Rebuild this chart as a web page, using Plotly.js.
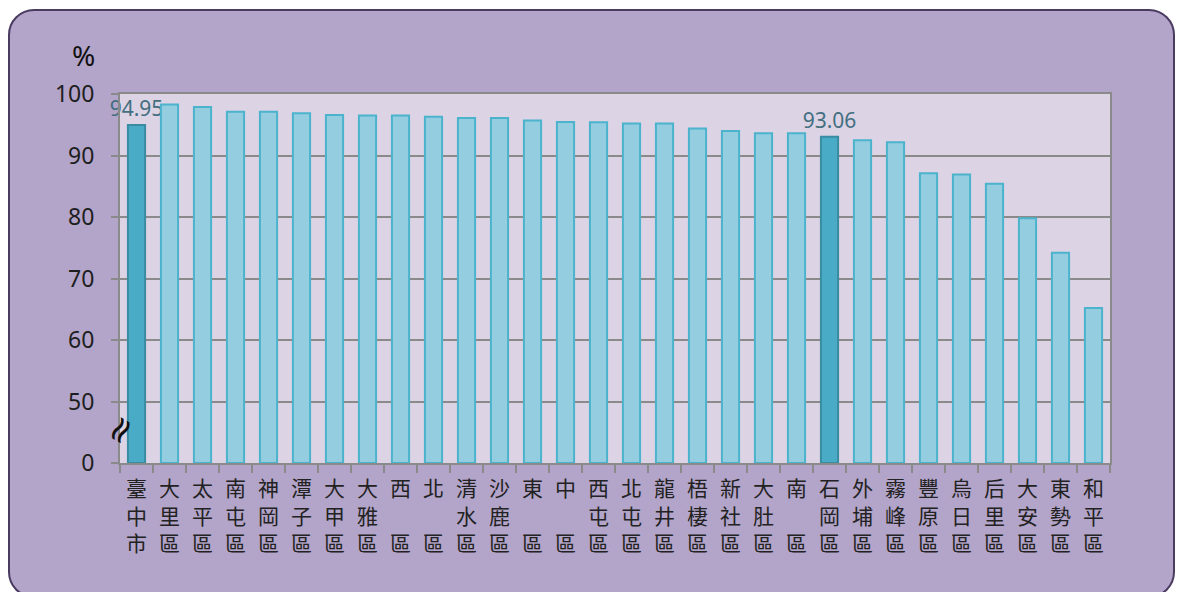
<!DOCTYPE html>
<html>
<head>
<meta charset="utf-8">
<script src="https://cdn.plot.ly/plotly-3.0.1.min.js"></script>
<style>
html,body{margin:0;padding:0;background:#ffffff;width:1177px;height:592px;overflow:hidden;}
#frame{position:absolute;left:8px;top:9px;width:1163px;height:585px;border:2.5px solid #4a3b60;border-radius:26px;background:#b3a4c9;}
#chart{position:absolute;left:0;top:0;width:1177px;height:592px;}
</style>
</head>
<body>
<div id="frame"></div>
<div id="chart"></div>
<script>
// Data
const districts = ["臺中市","大里區","太平區","南屯區","神岡區","潭子區","大甲區","大雅區","西區","北區","清水區","沙鹿區","東區","中區","西屯區","北屯區","龍井區","梧棲區","新社區","大肚區","南區","石岡區","外埔區","霧峰區","豐原區","烏日區","后里區","大安區","東勢區","和平區"];
const rates = [94.95,98.3,97.9,97.1,97.1,96.85,96.6,96.5,96.5,96.3,96.1,96.1,95.7,95.45,95.4,95.2,95.2,94.4,94.0,93.6,93.6,93.06,92.5,92.15,87.1,86.9,85.4,79.8,74.2,65.2];
const highlighted = ["臺中市","石岡區"];
const yTickValues = [0,50,60,70,80,90,100];
const yTickLabels = ["0","50","60","70","80","90","100"];
const axisBreakTo = 50, breakSpan = 10; // 0–50 compressed into one step

function mapY(v){ return v >= axisBreakTo ? v - axisBreakTo + breakSpan : v * breakSpan / axisBreakTo; }

function verticalLabel(name){
  let chars = Array.from(name);
  if (chars.length === 2) chars = [chars[0], "\u3000", chars[1]];
  return chars.join("<br>");
}

const isHi = districts.map(d => highlighted.includes(d));
const trace = {
  type: "bar",
  x: districts,
  y: rates.map(mapY),
  customdata: rates,
  hovertemplate: "%{x}: %{customdata}%<extra></extra>",
  marker: {
    color: isHi.map(h => h ? "#4aabc6" : "#93cddf"),
    line: { color: isHi.map(h => h ? "#3a8ca2" : "#4cb3cc"), width: 2 }
  },
  text: rates.map((v,i) => isHi[i] ? v.toFixed(2) : ""),
  textposition: "outside",
  constraintext: "none",
  textfont: { family: "Noto Sans, Open Sans, sans-serif", size: 21, color: "#436f80" },
  cliponaxis: false
};

const layout = {
  width: 1177, height: 592,
  margin: { l: 120, r: 67, t: 94, b: 129 },
  paper_bgcolor: "rgba(0,0,0,0)",
  plot_bgcolor: "#dcd3e5",
  bargap: 0.48,
  showlegend: false,
  font: { family: "Noto Sans, Noto Sans CJK TC, sans-serif", color: "#1e1e1e" },
  xaxis: {
    type: "category",
    tickvals: districts,
    ticktext: districts.map(verticalLabel),
    tickfont: { family: "Noto Sans CJK TC, sans-serif", size: 21, color: "#222" },
    showline: true, linecolor: "#8a8a8a", linewidth: 2, mirror: true,
    ticks: "outside", tickson: "boundaries", ticklen: 8, tickcolor: "#8a8a8a", tickwidth: 2,
    ticklabelstandoff: 6,
    tickangle: 0,
    showgrid: false
  },
  yaxis: {
    range: [0, mapY(100)],
    tickvals: yTickValues.map(mapY),
    ticktext: yTickLabels,
    tickfont: { family: "Noto Sans, Open Sans, sans-serif", size: 23, color: "#1e1e1e" },
    showline: true, linecolor: "#8a8a8a", linewidth: 2, mirror: true,
    ticks: "outside", ticklen: 7, tickcolor: "#8a8a8a", tickwidth: 2,
    ticklabelstandoff: 12,
    showgrid: true, gridcolor: "#8a8a8a", gridwidth: 2,
    zeroline: false,
    fixedrange: true
  },
  annotations: [
    { text: "%", xref: "paper", yref: "paper", x: -0.037, y: 1.0, yshift: 39, xanchor: "center", yanchor: "middle",
      showarrow: false, font: { family: "Noto Sans, sans-serif", size: 28, color: "#111" } },
    { text: "≈", xref: "paper", yref: "y", x: 0, y: mapY(27), xanchor: "center", yanchor: "middle",
      showarrow: false, textangle: -60, font: { family: "DejaVu Sans, sans-serif", size: 36, color: "#111" } }
  ]
};

Plotly.newPlot("chart", [trace], layout, { displayModeBar: false, staticPlot: true });
</script>
</body>
</html>
